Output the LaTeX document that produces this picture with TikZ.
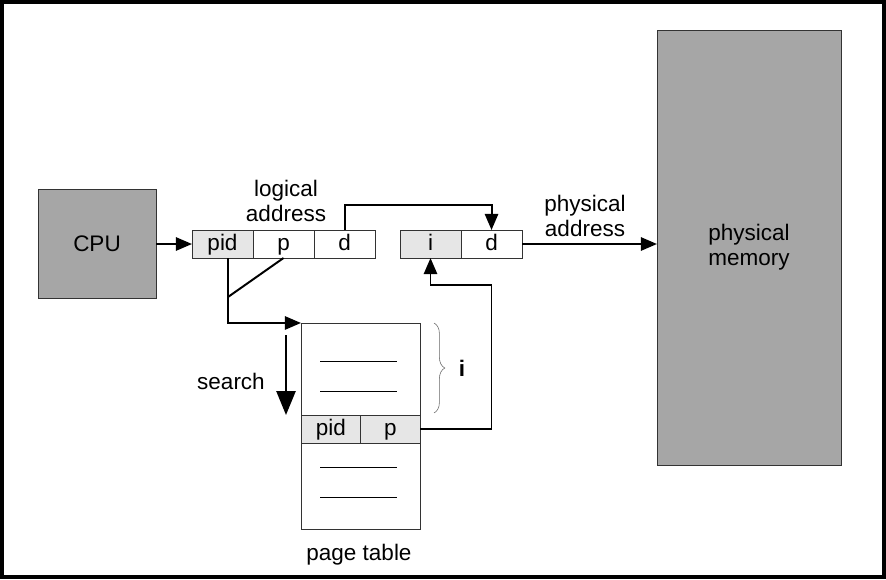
\documentclass[tikz,border=0pt]{standalone}
\usepackage{fontspec}
\setmainfont{Liberation Sans}
\usetikzlibrary{arrows.meta,positioning,calc,decorations.pathreplacing}
\definecolor{boxgray}{RGB}{166,166,166}
\definecolor{cellgray}{RGB}{230,230,230}
\tikzset{
	bigbox/.style={
		rectangle, draw=black!80, thin, fill=boxgray, inner sep=0pt, outer sep=0pt
	},
	%
	cell/.style={
		rectangle, draw=black!80, thin, fill=white, inner sep=0pt, outer sep=0pt,
		minimum width=1.525cm, minimum height=0.7cm, text height=0.98em, text depth=0.12em
	},
	%
	keycell/.style={
		cell, fill=cellgray
	},
	%
	conn/.style={
		line width=1.4pt, -{Triangle[length=0.4cm, width=0.33cm]}
	},
	%
	bigconn/.style={
		line width=1.4pt, -{Triangle[length=0.6cm, width=0.48cm]}
	},
	%
	txt/.style={
		align=center, font=\fontsize{16}{17.7}\selectfont
	}
}

\begin{document}
\begin{tikzpicture}[x=0.025cm, y=-0.025cm, every node/.style={txt}]
    \useasboundingbox (0,0) rectangle (886,579);
    \draw[line width=0.1cm] (2,2) rectangle (884,577);
    \node(cpu)[bigbox, minimum width=2.95cm, minimum height=2.725cm] at (97,244){CPU};
    \node(mem)[bigbox, minimum width=4.6cm, minimum height=10.875cm] at (749,247.5){physical\\memory};
    % logical address
    \node(lpid)[keycell] at (222.5,244){pid};
    \node(lp)[cell, right=0pt of lpid]{p};
    \node(ld)[cell, right=0pt of lp]{d};
    \node(laddr) at (286,201){logical\\address};
    % physical address
    \node(pi)[keycell] at (430.5,244){i};
    \node(pd)[cell, right=0pt of pi]{d};
    \node(paddr) at (585,216){physical\\address};
    % page table
    \node(ptab)[rectangle, draw=black!80, thin, minimum width=2.975cm, minimum height=5.15cm, inner sep=0pt, outer sep=0pt] at (360.5,426){};
    \node(epid)[keycell, minimum width=1.4875cm, anchor=north west] at (301,415){pid};
    \node(ep)[keycell, minimum width=1.4875cm, right=0pt of epid]{p};
    \foreach \y in {361,391,467,497}
        \draw[thin] (320,\y) -- (397,\y);
    \node(ptlabel) at (359,555){page table};
    \draw[black!60, thin, decorate, decoration={brace, amplitude=0.27cm}] (434,323) -- (434,413)
        node(ilabel)[midway, right=0.5cm, text=black, font=\fontsize{16}{17}\selectfont\bfseries]{i};
    % connectors
    \draw[conn] (cpu) -- (lpid);
    \draw[conn] (ld.north) -- ++(0,-25) -| (pd.north);
    \draw[conn] (pd.east) -- (pd.east -| mem.west);
    \coordinate(split) at ($(lpid.south)+(5.5,0)$);
    \coordinate(join) at ($(split)+(0,39)$);
    \draw[line width=1.4pt] (lp.south) -- (join);
    \draw[conn] (split) |- (ptab.north west);
    \draw[conn] (ep.east) -| ($(pi.south)+(61,27)$) -| (pi.south);
    \coordinate(stop) at (286,335);
    \draw[bigconn] (stop) -- (stop |- epid.north);
    \node(search) at (231,381){search};
\end{tikzpicture}
\end{document}
